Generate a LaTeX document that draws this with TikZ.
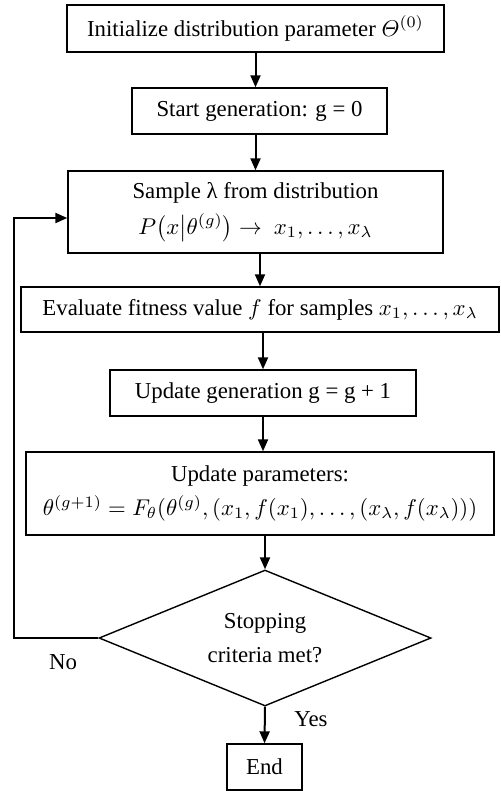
\documentclass[tikz,border=0pt]{standalone}
\usepackage{fix-cm}
\usepackage{amsmath}
\usepackage{fontspec}
\setmainfont{Liberation Serif}
\usetikzlibrary{shapes.geometric,arrows.meta}
\begin{document}
\begin{tikzpicture}[x=.5pt,y=-.5pt,
  box/.style={draw=black,line width=0.7pt,inner sep=0pt,align=center,font=\fontsize{11.4}{17}\selectfont},
  arr/.style={draw=black,line width=1pt,-{Triangle[length=6pt,width=5pt]}},
  lbl/.style={inner sep=0pt,font=\fontsize{11.4}{13.5}\selectfont}]
\path[use as bounding box] (0,0) rectangle (500,791);
\node[box,minimum width=188.5pt,minimum height=23.5pt] (init) at (255.5,28.5) {Initialize distribution parameter $\varTheta^{(0)}$};
\node[box,minimum width=127.5pt,minimum height=23pt] (start) at (259.5,111) {Start generation: g = 0};
\node[box,minimum width=187.5pt,minimum height=41pt] (sample) at (255.5,212) {Sample λ from distribution\\[1pt]$P\bigl(x\big|\theta^{(g)}\bigr)\to\ x_1,\ldots,x_\lambda$};
\node[box,minimum width=239pt,minimum height=22.5pt] (eval) at (260,309.5) {Evaluate fitness value $f$ for samples $x_1,\ldots,x_\lambda$};
\node[box,minimum width=153pt,minimum height=23pt] (nextgen) at (263,393) {Update generation g = g + 1};
\node[box,minimum width=234pt,minimum height=41.5pt] (update) at (260,493.5) {Update parameters:\\$\theta^{(g+1)}=F_\theta(\theta^{(g)},(x_1,f(x_1),\ldots,(x_\lambda,f(x_\lambda)))$};
\node[box,diamond,shape aspect=2.44,minimum width=166pt,minimum height=68pt] (stop) at (265,638) {Stopping\\criteria met?};
\node[box,minimum width=37.5pt,minimum height=23pt] (end) at (264.5,767) {End};
\coordinate (back) at (14,638);
\draw[arr] (init.south) -- (init.south |- start.north);
\draw[arr] (sample.north |- start.south) -- (sample.north);
\draw[arr] (eval.north |- sample.south) -- (eval.north);
\draw[arr] (nextgen.north |- eval.south) -- (nextgen.north);
\draw[arr] (nextgen.south) -- (nextgen.south |- update.north);
\draw[arr] (stop.north |- update.south) -- (stop.north);
\draw[arr] (stop.south) -- (end.north);
\draw[arr] (stop.west) -- (back) |- ([yshift=-3pt]sample.west);
\node[lbl] (no) at (63,662) {No};
\node[lbl] (yes) at (311,719) {Yes};
\end{tikzpicture}
\end{document}
